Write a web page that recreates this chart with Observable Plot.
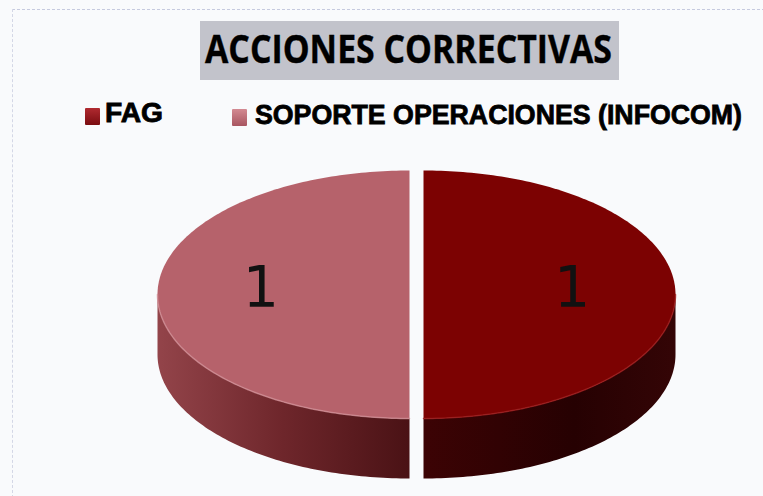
<!DOCTYPE html>
<html>
<head>
<meta charset="utf-8">
<script src="https://cdn.jsdelivr.net/npm/d3@7"></script>
<script src="https://cdn.jsdelivr.net/npm/@observablehq/plot@0.6"></script>
<style>
  html, body { margin: 0; padding: 0; background: #f9fafc; }
  #wrap { position: relative; width: 763px; height: 496px; overflow: hidden; background: #f9fafc; }
  #border { position: absolute; left: 12px; top: 9px; right: -2px; bottom: -2px;
            border-top: 1px dashed #c6cadf; border-left: 1px dashed #d4d7e6; }
  #header { position: relative; width: 763px; height: 150px; }
  #titlebox { position: absolute; left: 200px; top: 21px; width: 419px; height: 59px; background: #c2c3cb; }
  .t { position: absolute; white-space: nowrap; transform-origin: 0 0; color: #000; }
  #title { font-family: "Open Sans", sans-serif; font-weight: 700; font-size: 40px; line-height: 1;
           -webkit-text-stroke: 0.4px #000; }
  .leg { font-family: "Liberation Sans", Arial, sans-serif; font-weight: 700; font-size: 27px; line-height: 1;
         -webkit-text-stroke: 0.8px #000; }
  .sw { position: absolute; width: 15px; height: 17px; border-radius: 1px; }
  #plot { position: relative; }
</style>
</head>
<body>
<div id="wrap">
  <div id="border"></div>
  <div id="header">
    <div id="titlebox"></div>
    <span id="title" class="t"></span>
    <div id="sw0" class="sw"></div>
    <span id="leg0" class="t leg"></span>
    <div id="sw1" class="sw"></div>
    <span id="leg1" class="t leg"></span>
  </div>
  <div id="plot"></div>
</div>
<script>
// ---- data ----
const title = "ACCIONES CORRECTIVAS";
const categories = ["FAG", "SOPORTE OPERACIONES (INFOCOM)"];
const values = [1, 1];
const valueLabels = ["1", "1"];
const topColors = ["#7c0202", "#b6626b"];
const swatchColors = ["linear-gradient(#b02a30,#7a0c10)", "linear-gradient(#d38a92,#a85560)"];

// ---- header (title + legend) ----
function place(el, text, left, top, targetWidth) {
  el.textContent = text;
  el.style.left = left + "px";
  el.style.top = top + "px";
  const w = el.getBoundingClientRect().width;
  el.style.transform = `scaleX(${targetWidth / w})`;
}
place(document.getElementById("title"), title, 205, 28, 407);
place(document.getElementById("leg0"), categories[0], 105, 100, 58);
place(document.getElementById("leg1"), categories[1], 255, 102, 487);
const sw0 = document.getElementById("sw0");
sw0.style.left = "85px"; sw0.style.top = "108px"; sw0.style.background = swatchColors[0];
const sw1 = document.getElementById("sw1");
sw1.style.left = "232px"; sw1.style.top = "109px"; sw1.style.background = swatchColors[1];

// ---- pie geometry (pixel layout of the SVG) ----
const W = 763, H = 346;
const CX = 416, CY = 144, RX = 252, RY = 124, DEPTH = 60, EXPLODE = 7;
const depth = DEPTH / RY;

const arcs = d3.pie().sort(null)(values);
const STEP = Math.PI / 180;

function rim(a, off, dy = 0) {
  return { x: Math.sin(a) + off.x, y: -Math.cos(a) + off.y + dy };
}
function angles(a0, a1) {
  const n = Math.max(2, Math.ceil((a1 - a0) / STEP));
  return d3.range(n + 1).map(i => a0 + (a1 - a0) * i / n);
}

const slices = arcs.map((arc, i) => {
  const mid = (arc.startAngle + arc.endAngle) / 2;
  const off = { x: (EXPLODE / RX) * Math.sin(mid), y: -(EXPLODE / RY) * Math.cos(mid) };
  const top = [{ x: off.x, y: off.y }, ...angles(arc.startAngle, arc.endAngle).map(a => rim(a, off))];
  const lo = Math.max(arc.startAngle, Math.PI / 2), hi = Math.min(arc.endAngle, 3 * Math.PI / 2);
  let side = [], front = [];
  if (hi > lo) {
    const as = angles(lo, hi);
    side = [...as.map(a => rim(a, off)), ...as.slice().reverse().map(a => rim(a, off, depth))];
    front = as.map(a => rim(a, off));
  }
  const lab = { x: 0.59 * Math.sin(mid) + off.x, y: -0.59 * Math.cos(mid) + off.y - 0.05, text: valueLabels[i] };
  return { top, side, front, lab, i };
});

const marks = [];
slices.forEach(s => {
  if (s.side.length) marks.push(Plot.line(s.side, { x: "x", y: "y", curve: "linear-closed", stroke: "none", fill: `url(#side${s.i})` }));
});
slices.forEach(s => {
  marks.push(Plot.line(s.top, { x: "x", y: "y", curve: "linear-closed", stroke: "none", fill: topColors[s.i] }));
  if (s.front.length) marks.push(Plot.line(s.front, { x: "x", y: "y", stroke: s.i === 0 ? "#9c1c1c" : "#cf8c94", strokeWidth: 1.5, strokeOpacity: 0.8 }));
});
marks.push(Plot.text(slices.map(s => s.lab), { x: "x", y: "y", text: "text", fontSize: 57, fontFamily: "DejaVu Sans, sans-serif", fill: "#111" }));

const chart = Plot.plot({
  width: W,
  height: H,
  margin: 0,
  style: { background: "transparent", overflow: "visible" },
  x: { domain: [-CX / RX, (W - CX) / RX], axis: null },
  y: { domain: [-CY / RY, (H - CY) / RY], reverse: true, axis: null },
  marks
});

const defs = d3.select(chart).insert("defs", ":first-child");
const g0 = defs.append("linearGradient").attr("id", "side0").attr("x1", 0).attr("x2", 1).attr("y1", 0).attr("y2", 0);
g0.append("stop").attr("offset", 0).attr("stop-color", "#3c0304");
g0.append("stop").attr("offset", 0.6).attr("stop-color", "#260102");
g0.append("stop").attr("offset", 1).attr("stop-color", "#340506");
const g1 = defs.append("linearGradient").attr("id", "side1").attr("x1", 0).attr("x2", 1).attr("y1", 0).attr("y2", 0);
g1.append("stop").attr("offset", 0).attr("stop-color", "#93444a");
g1.append("stop").attr("offset", 0.5).attr("stop-color", "#6e262b");
g1.append("stop").attr("offset", 1).attr("stop-color", "#4a1215");

document.getElementById("plot").appendChild(chart);
</script>
</body>
</html>
